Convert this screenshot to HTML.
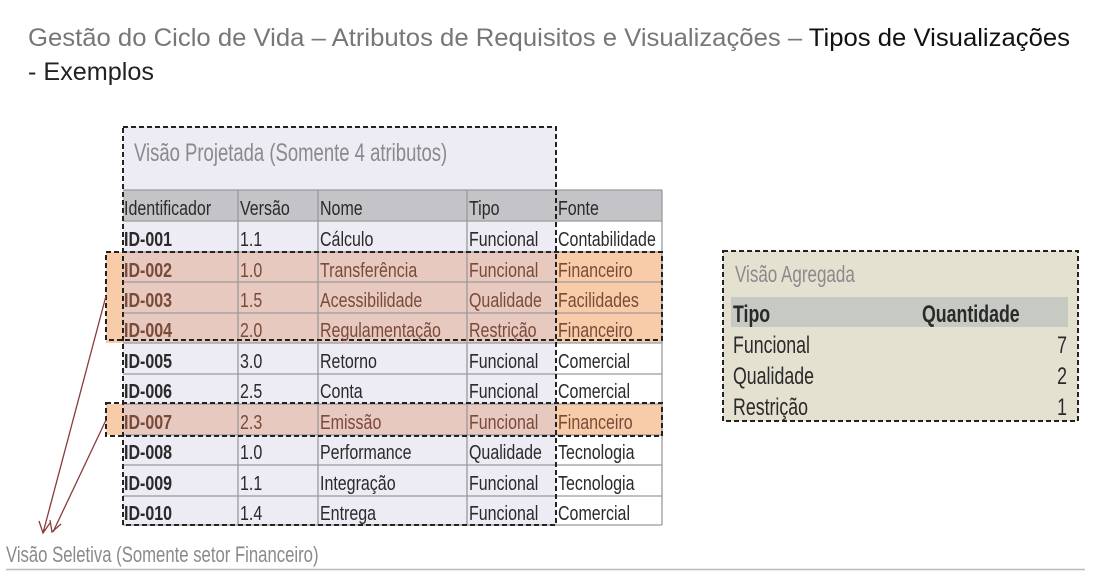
<!DOCTYPE html>
<html><head><meta charset="utf-8"><style>
html,body{margin:0;padding:0;background:#fff;width:1108px;height:582px;overflow:hidden}
svg{display:block}
.t{font-family:"Liberation Sans Narrow","Liberation Sans",sans-serif;font-size:20px;fill:#2a2a2a;transform-box:fill-box;transform-origin:0 0;transform:scaleX(0.8)}
.e{transform-origin:100% 0}
.b{font-weight:bold;fill:#2a2a2a}
.h{fill:#7a4a38}
.g{fill:#8a8a8a}
.a{font-size:24px;transform:scaleX(0.74)}
</style></head><body>
<svg width="1108" height="582" viewBox="0 0 1108 582" xmlns="http://www.w3.org/2000/svg">
<text x="28" y="46" font-family="Liberation Sans, sans-serif" font-size="25" fill="#777" textLength="1042" lengthAdjust="spacingAndGlyphs">Gestão do Ciclo de Vida – Atributos de Requisitos e Visualizações – <tspan fill="#111">Tipos de Visualizações</tspan></text>
<text x="28" y="80" font-family="Liberation Sans, sans-serif" font-size="25" fill="#222" textLength="126" lengthAdjust="spacingAndGlyphs">- Exemplos</text>

<rect x="123" y="127" width="433" height="398" fill="#edebf3"/>
<text x="134" y="161" class="t g" style="font-size:25px;transform:scaleX(0.74)">Visão Projetada (Somente 4 atributos)</text>
<rect x="123" y="190" width="539" height="31" fill="#c4c3c7"/>
<rect x="556" y="221" width="106" height="304" fill="#fff"/>
<rect x="106" y="252" width="450" height="91" fill="#e7c9c0"/>
<rect x="556" y="252" width="106" height="91" fill="#f8cca9"/>
<rect x="106" y="404" width="450" height="31" fill="#e7c9c0"/>
<rect x="556" y="404" width="106" height="31" fill="#f8cca9"/>
<rect x="106" y="252" width="17" height="91" fill="#f8cca9"/>
<rect x="106" y="404" width="17" height="31" fill="#f8cca9"/>
<g stroke="#9a9a9a" stroke-width="1.3">
<line x1="123" y1="190" x2="662" y2="190"/>
<line x1="123" y1="221" x2="662" y2="221"/>
<line x1="123" y1="252" x2="662" y2="252"/>
<line x1="123" y1="282" x2="662" y2="282"/>
<line x1="123" y1="313" x2="662" y2="313"/>
<line x1="123" y1="343" x2="662" y2="343"/>
<line x1="123" y1="374" x2="662" y2="374"/>
<line x1="123" y1="404" x2="662" y2="404"/>
<line x1="123" y1="435" x2="662" y2="435"/>
<line x1="123" y1="465" x2="662" y2="465"/>
<line x1="123" y1="496" x2="662" y2="496"/>
<line x1="123" y1="525" x2="662" y2="525"/>
<line x1="238" y1="190" x2="238" y2="525"/>
<line x1="318" y1="190" x2="318" y2="525"/>
<line x1="467" y1="190" x2="467" y2="525"/>
<line x1="662" y1="190" x2="662" y2="525"/>
</g>
<g fill="none" stroke="#222" stroke-width="2" stroke-dasharray="5,3">
<rect x="123" y="127" width="433" height="398"/>
<rect x="106" y="252" width="556" height="88"/>
<rect x="106" y="403" width="556" height="33"/>
</g>
<text x="124" y="215" class="t">Identificador</text><text x="240" y="215" class="t">Versão</text><text x="320" y="215" class="t">Nome</text><text x="469" y="215" class="t">Tipo</text><text x="558" y="215" class="t">Fonte</text>

<text x="124" y="246" class="t b">ID-001</text><text x="240" y="246" class="t">1.1</text><text x="320" y="246" class="t">Cálculo</text><text x="469" y="246" class="t">Funcional</text><text x="558" y="246" class="t">Contabilidade</text>
<text x="124" y="277" class="t b h">ID-002</text><text x="240" y="277" class="t h">1.0</text><text x="320" y="277" class="t h">Transferência</text><text x="469" y="277" class="t h">Funcional</text><text x="558" y="277" class="t h">Financeiro</text>
<text x="124" y="307" class="t b h">ID-003</text><text x="240" y="307" class="t h">1.5</text><text x="320" y="307" class="t h">Acessibilidade</text><text x="469" y="307" class="t h">Qualidade</text><text x="558" y="307" class="t h">Facilidades</text>
<text x="124" y="337" class="t b h">ID-004</text><text x="240" y="337" class="t h">2.0</text><text x="320" y="337" class="t h">Regulamentação</text><text x="469" y="337" class="t h">Restrição</text><text x="558" y="337" class="t h">Financeiro</text>
<text x="124" y="368" class="t b">ID-005</text><text x="240" y="368" class="t">3.0</text><text x="320" y="368" class="t">Retorno</text><text x="469" y="368" class="t">Funcional</text><text x="558" y="368" class="t">Comercial</text>
<text x="124" y="398" class="t b">ID-006</text><text x="240" y="398" class="t">2.5</text><text x="320" y="398" class="t">Conta</text><text x="469" y="398" class="t">Funcional</text><text x="558" y="398" class="t">Comercial</text>
<text x="124" y="429" class="t b h">ID-007</text><text x="240" y="429" class="t h">2.3</text><text x="320" y="429" class="t h">Emissão</text><text x="469" y="429" class="t h">Funcional</text><text x="558" y="429" class="t h">Financeiro</text>
<text x="124" y="459" class="t b">ID-008</text><text x="240" y="459" class="t">1.0</text><text x="320" y="459" class="t">Performance</text><text x="469" y="459" class="t">Qualidade</text><text x="558" y="459" class="t">Tecnologia</text>
<text x="124" y="490" class="t b">ID-009</text><text x="240" y="490" class="t">1.1</text><text x="320" y="490" class="t">Integração</text><text x="469" y="490" class="t">Funcional</text><text x="558" y="490" class="t">Tecnologia</text>
<text x="124" y="520" class="t b">ID-010</text><text x="240" y="520" class="t">1.4</text><text x="320" y="520" class="t">Entrega</text><text x="469" y="520" class="t">Funcional</text><text x="558" y="520" class="t">Comercial</text>

<g stroke="#8b3a3a" stroke-width="1.3" fill="none">
<line x1="106" y1="296" x2="43" y2="533"/>
<polyline points="39,521 43,533 50,523"/>
<line x1="106" y1="420" x2="53" y2="532"/>
<polyline points="50,520 52,532 61,524"/>
</g>

<text x="6" y="562" class="t g" style="font-size:22px;transform:scaleX(0.76)">Visão Seletiva (Somente setor Financeiro)</text>
<line x1="6" y1="569.5" x2="1085" y2="569.5" stroke="#bbb" stroke-width="1.5"/>

<rect x="723" y="251" width="355" height="170" fill="#e5e1d1"/>
<rect x="731" y="297" width="337" height="30" fill="#c7cac3"/>
<rect x="723" y="251" width="355" height="170" fill="none" stroke="#222" stroke-width="2" stroke-dasharray="5,3"/>
<text x="735" y="282" class="t g a" style="font-size:23px">Visão Agregada</text>
<text x="733" y="322" class="t b a">Tipo</text>
<text x="922" y="322" class="t b a">Quantidade</text>
<text x="733" y="353" class="t a">Funcional</text><text x="1067" y="353" class="t a e" text-anchor="end">7</text>
<text x="733" y="384" class="t a">Qualidade</text><text x="1067" y="384" class="t a e" text-anchor="end">2</text>
<text x="733" y="415" class="t a">Restrição</text><text x="1067" y="415" class="t a e" text-anchor="end">1</text>
</svg>
</body></html>
